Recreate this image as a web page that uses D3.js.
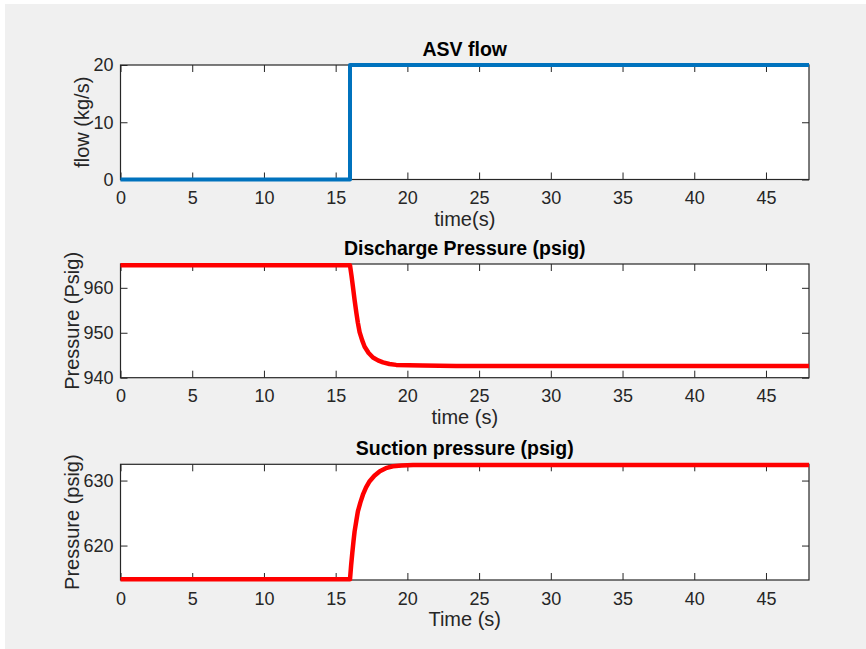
<!DOCTYPE html>
<html>
<head>
<meta charset="utf-8">
<script src="https://cdn.jsdelivr.net/npm/d3@7"></script>
<style>
  html, body { margin: 0; padding: 0; background: #ffffff; }
  svg { display: block; font-family: "Liberation Sans", Arial, Helvetica, sans-serif; }
</style>
</head>
<body>
<svg id="fig" width="866" height="649"></svg>
<script>
// Time axis shared by all three panels
const timeDomain = [0, 48];
const timeTicks = [0, 5, 10, 15, 20, 25, 30, 35, 40, 45];

// Anti-surge valve flow (kg/s): step opening at t = 16 s
const flowTime   = [0, 16, 16, 48];
const flowValues = [0, 0, 20, 20];
const flowTicks  = [0, 10, 20];

// Discharge pressure (psig)
const dischargeTime   = [0, 16.0, 16.1, 16.2, 16.32, 16.44, 16.55, 16.67, 16.85, 17.02, 17.3, 17.6, 17.95, 18.3, 18.75, 19.22, 20.1, 21.08, 23.4, 48];
const dischargeValues = [965, 965, 962.8, 960.35, 957.3, 954.5, 952.2, 950.15, 948.3, 946.9, 945.5, 944.5, 943.85, 943.4, 943.05, 942.85, 942.75, 942.7, 942.6, 942.6];
const dischargeTicks  = [940, 950, 960];

// Suction pressure (psig)
const suctionTime   = [0, 16.0, 16.08, 16.16, 16.24, 16.32, 16.44, 16.55, 16.72, 16.9, 17.12, 17.37, 17.7, 18.08, 18.5, 18.99, 19.6, 20.4, 23.4, 48];
const suctionValues = [614.8, 614.8, 617.0, 618.86, 620.6, 622.16, 623.8, 625.25, 626.6, 627.82, 628.95, 629.9, 630.75, 631.44, 631.9, 632.2, 632.32, 632.38, 632.4, 632.4];
const suctionTicks  = [620, 630];

const svg = d3.select("#fig");

// Figure background
svg.append("rect").attr("x", 5).attr("y", 4).attr("width", 861).attr("height", 645).attr("fill", "#f0f0f0");

const left = 120.5, right = 809;
const axisColor = "#262626";

const panels = [
  { top: 65,  bottom: 179.5, yDomain: [0, 20], yTicks: flowTicks, t: flowTime, v: flowValues,
    color: "#0072BD", width: 4, title: "ASV flow", xlabel: "time(s)", ylabel: "flow (kg/s)", ylabelX: 82 },
  { top: 264, bottom: 377.7, yDomain: [940, 965.3], yTicks: dischargeTicks, t: dischargeTime, v: dischargeValues,
    color: "#ff0000", width: 4.5, title: "Discharge Pressure (psig)", xlabel: "time (s)", ylabel: "Pressure (Psig)", ylabelX: 72 },
  { top: 464.3, bottom: 580, yDomain: [614.7, 632.5], yTicks: suctionTicks, t: suctionTime, v: suctionValues,
    color: "#ff0000", width: 4.5, title: "Suction pressure (psig)", xlabel: "Time (s)", ylabel: "Pressure (psig)", ylabelX: 72 }
];

panels.forEach(p => {
  const x = d3.scaleLinear().domain(timeDomain).range([left, right]);
  const y = d3.scaleLinear().domain(p.yDomain).range([p.bottom, p.top]);
  const g = svg.append("g");

  // Plot area
  g.append("rect").attr("x", left).attr("y", p.top)
    .attr("width", right - left).attr("height", p.bottom - p.top).attr("fill", "#ffffff");

  const tickLen = 7;
  // Axes with inward ticks, mirrored on top and right
  const xAxisB = d3.axisBottom(x).tickValues(timeTicks).tickSizeInner(-tickLen).tickSizeOuter(0).tickPadding(12);
  const xAxisT = d3.axisTop(x).tickValues(timeTicks).tickSizeInner(-tickLen).tickSizeOuter(0).tickFormat("");
  const yAxisL = d3.axisLeft(y).tickValues(p.yTicks).tickSizeInner(-tickLen).tickSizeOuter(0).tickPadding(7);
  const yAxisR = d3.axisRight(y).tickValues(p.yTicks).tickSizeInner(-tickLen).tickSizeOuter(0).tickFormat("");

  const styleAxis = sel => {
    sel.select(".domain").remove();
    sel.selectAll("line").attr("stroke", axisColor).attr("stroke-width", 1);
    sel.selectAll("text").attr("fill", axisColor).style("font-size", "18px").style("font-family", "Liberation Sans, Arial, sans-serif");
  };
  g.append("g").attr("transform", `translate(0,${p.bottom})`).call(xAxisB).call(styleAxis);
  g.append("g").attr("transform", `translate(0,${p.top})`).call(xAxisT).call(styleAxis);
  g.append("g").attr("transform", `translate(${left},0)`).call(yAxisL).call(styleAxis);
  g.append("g").attr("transform", `translate(${right},0)`).call(yAxisR).call(styleAxis);

  // Box
  g.append("rect").attr("x", left).attr("y", p.top)
    .attr("width", right - left).attr("height", p.bottom - p.top)
    .attr("fill", "none").attr("stroke", axisColor).attr("stroke-width", 1.2);

  // Data line
  const pts = p.t.map((tv, i) => [tv, p.v[i]]);
  g.append("path").datum(pts)
    .attr("d", d3.line().x(d => x(d[0])).y(d => y(d[1])))
    .attr("fill", "none").attr("stroke", p.color).attr("stroke-width", p.width)
    .attr("stroke-linejoin", "round");

  // Title
  g.append("text").attr("x", (left + right) / 2).attr("y", p.top - 9)
    .attr("text-anchor", "middle").attr("fill", "#000")
    .style("font-size", "19.5px").style("font-weight", "bold").text(p.title);

  // X label
  g.append("text").attr("x", (left + right) / 2).attr("y", p.bottom + 46)
    .attr("text-anchor", "middle").attr("fill", axisColor)
    .style("font-size", "20px").text(p.xlabel);

  // Y label
  g.append("text")
    .attr("transform", `translate(${p.ylabelX},${(p.top + p.bottom) / 2}) rotate(-90)`)
    .attr("text-anchor", "middle").attr("dominant-baseline", "central").attr("fill", axisColor)
    .style("font-size", "20px").text(p.ylabel);
});
</script>
</body>
</html>
